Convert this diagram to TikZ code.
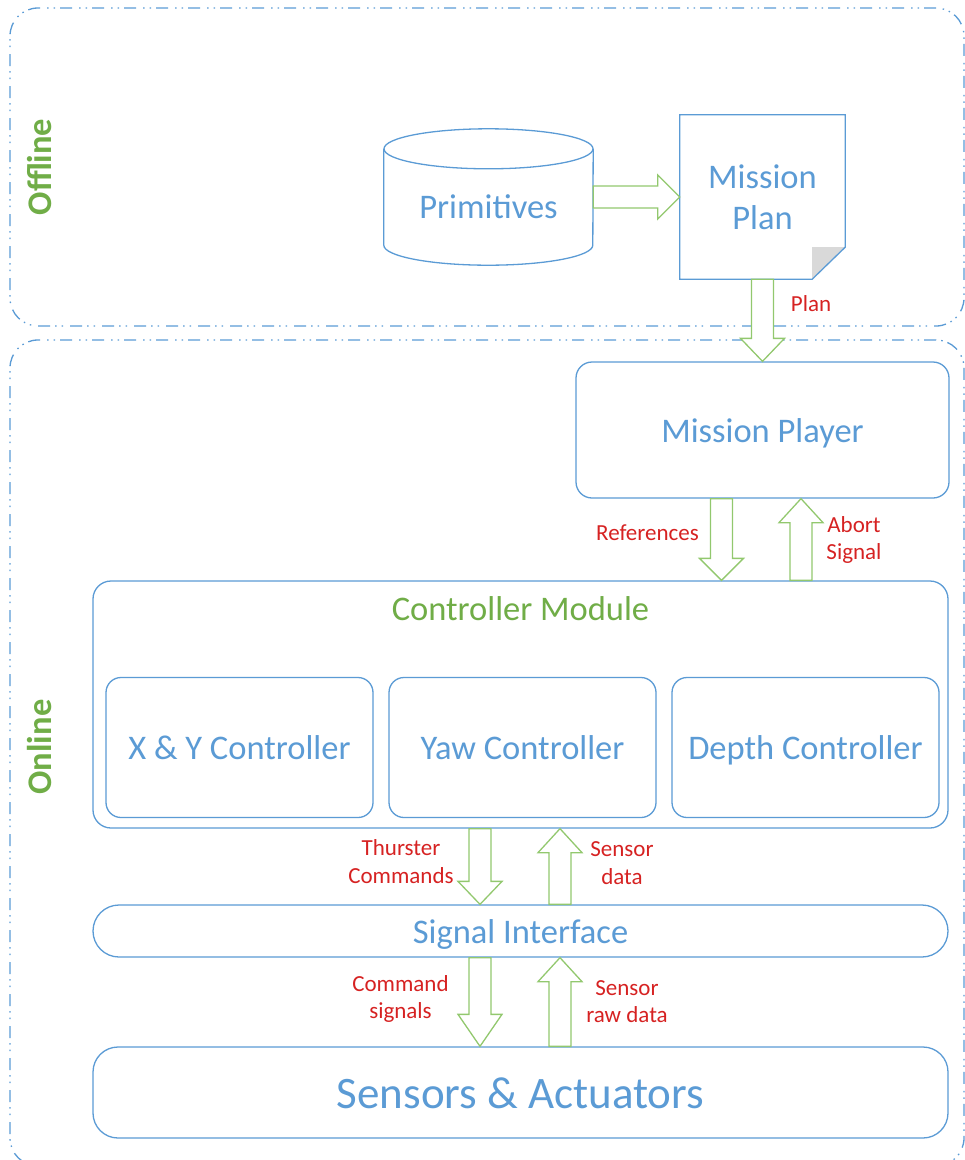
\documentclass[tikz,border=0pt]{standalone}
\usepackage{fontspec}
\setmainfont{Carlito}
\usetikzlibrary{calc}

\definecolor{boxblue}{RGB}{91,155,213}
\definecolor{titlegreen}{RGB}{112,173,71}
\definecolor{flowgreen}{RGB}{146,200,110}
\definecolor{labelred}{RGB}{214,34,34}
\definecolor{foldgray}{RGB}{217,217,217}

\newcommand{\boxfont}{\fontsize{34.5}{41.4}\selectfont}
\newcommand{\labelfont}{\fontsize{23}{27.6}\selectfont}
\newcommand{\bigfont}{\fontsize{45}{54}\selectfont}

% hollow block arrow: from, to, head length
\newcommand{\hollowarrow}[3]{%
  \coordinate (hb) at ($(#2)!#3!(#1)$);
  \draw[flow] ($(#1)!11pt!90:(#2)$) -- ($(hb)!11pt!90:(#2)$) -- ($(hb)!22pt!90:(#2)$)
    -- (#2) -- ($(hb)!22pt!-90:(#2)$) -- ($(hb)!11pt!-90:(#2)$) -- ($(#1)!11pt!-90:(#2)$) -- cycle;}

\begin{document}
\begin{tikzpicture}[x=1pt, y=-1pt,
    zone/.style={draw=boxblue, line width=1.3pt, rounded corners=28pt, inner sep=0pt,
      dash pattern=on 12pt off 5pt on 1.5pt off 5pt on 1.5pt off 7pt},
    zonelabel/.style={rotate=90, text=titlegreen, font=\boxfont\bfseries},
    boxline/.style={draw=boxblue, line width=1.3pt},
    txtnode/.style={inner sep=0pt, text=boxblue, font=\boxfont, align=center},
    module/.style={txtnode, boxline, fill=white, text height=32pt, text depth=8pt},
    siglabel/.style={inner sep=0pt, text=labelred, font=\labelfont, align=center},
    flow/.style={draw=flowgreen, line width=1.3pt, fill=white, line join=miter}]

        \useasboundingbox (0,0) rectangle (965,1160);

        % Offline zone
        \node[zone, minimum width=954pt, minimum height=318pt] (offline) at (487,167) {};
        \node[zonelabel] (offlinelbl) at (40,167) {Offline};

        % Online zone
        \node[zone, minimum width=954pt, minimum height=826pt] (online) at (487,753) {};
        \node[zonelabel] (onlinelbl) at (40,747) {Online};

        % Primitives database (node covers the body below the top ellipse)
        \node[txtnode, minimum width=209pt, minimum height=116pt] (prim) at (488.5,207) {Primitives};
        \draw[boxline] (prim.north west) -- ([yshift=20pt]prim.south west)
          arc[start angle=180, end angle=360, x radius=104.5pt, y radius=20pt]
          -- (prim.north east);
        \draw[boxline] (prim.north) ellipse [x radius=104.5pt, y radius=20pt];

        % Mission plan document
        \node[txtnode, minimum width=165pt, minimum height=164pt] (plan) at (762.5,197) {Mission\\Plan};
        \fill[foldgray] ([yshift=32pt]plan.south east) -- ([xshift=-33pt]plan.south east)
          -- ([xshift=-33pt,yshift=32pt]plan.south east) -- cycle;
        \draw[boxline] (plan.north west) -- (plan.north east) -- ([yshift=32pt]plan.south east)
          -- ([xshift=-33pt]plan.south east) -- (plan.south west) -- cycle;

        % Mission player
        \node[module, rounded corners=16pt, minimum width=373pt, minimum height=136pt] (player) at (762.5,430) {Mission Player};

        % Controller module
        \node[module, rounded corners=18pt, minimum width=855pt, minimum height=247pt] (ctrl) at (520.5,704.5) {};
        \node[txtnode, text=titlegreen] (ctrltitle) at (520.5,609) {Controller Module};
        \node[module, rounded corners=15pt, minimum width=267pt, minimum height=140pt] (xy) at (239.5,747.5) {X \& Y Controller};
        \node[module, rounded corners=15pt, minimum width=267pt, minimum height=140pt] (yaw) at (522.5,747.5) {Yaw Controller};
        \node[module, rounded corners=15pt, minimum width=267pt, minimum height=140pt] (depth) at (805.5,747.5) {Depth Controller};

        % Signal interface
        \node[module, rounded corners=26pt, minimum width=855pt, minimum height=52pt] (sig) at (520.5,931) {Signal Interface};

        % Sensors and actuators
        \node[module, rounded corners=25pt, minimum width=855pt, minimum height=91pt, font=\bigfont,
          text height=41pt, text depth=10pt] (sens) at (520.5,1092.5) {Sensors \& Actuators};

        % Arrow positions
        \coordinate (refs) at ([xshift=-41pt]player.south);
        \coordinate (abort) at ([xshift=38.5pt]player.south);
        \coordinate (thr) at ([xshift=-40.5pt]ctrl.south);
        \coordinate (sdat) at ([xshift=39.5pt]ctrl.south);

        % Offline flow
        \hollowarrow{prim.east |- plan.west}{plan.west}{22pt}
        \hollowarrow{plan.south}{plan.south |- player.north}{23pt}
        \node[siglabel] (planlbl) at (811,304) {Plan};

        % Player <-> controller
        \hollowarrow{refs}{refs |- ctrl.north}{22pt}
        \hollowarrow{abort |- ctrl.north}{abort}{24pt}
        \node[siglabel] (reflbl) at (647.5,533) {References};
        \node[siglabel] (abortlbl) at (854,540) {Abort\\Signal};

        % Controller <-> interface
        \hollowarrow{thr}{thr |- sig.north}{23pt}
        \hollowarrow{sdat |- sig.north}{sdat}{24pt}
        \node[siglabel] (thrlbl) at (401,861.5) {Thurster\\Commands};
        \node[siglabel] (sdatlbl) at (622,863) {Sensor\\data};

        % Interface <-> hardware
        \hollowarrow{thr |- sig.south}{thr |- sens.north}{32pt}
        \hollowarrow{sdat |- sens.north}{sdat |- sig.south}{24pt}
        \node[siglabel] (cmdlbl) at (400.5,999) {Command\\signals};
        \node[siglabel] (rawlbl) at (627,1001.5) {Sensor\\raw data};

    \end{tikzpicture}
\end{document}
